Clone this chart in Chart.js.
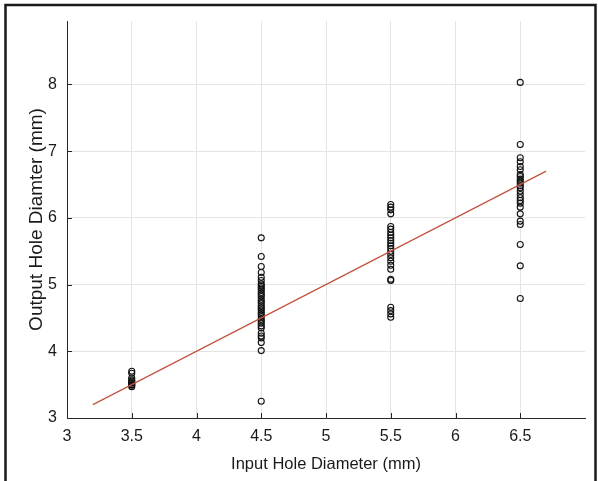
<!DOCTYPE html>
<html>
<head>
<meta charset="utf-8">
<script src="https://cdn.jsdelivr.net/npm/chart.js@4"></script>
<style>
html,body{margin:0;padding:0;background:#fff;}
#wrap{width:598px;height:481px;position:relative;}
</style>
</head>
<body>
<div id="wrap"><canvas id="c" width="598" height="481"></canvas></div>
<script>
// Input diameters (x categories)
const inputDiameters = [3.5, 4.5, 5.5, 6.5];
// Measured output diameters per input diameter
const out35 = [3.70, 3.67, 3.60, 3.57, 3.55, 3.53, 3.52, 3.50, 3.49, 3.47];
const out45 = [5.70, 5.42, 5.27, 5.18, 5.11, 5.06, 5.01, 4.98, 4.95, 4.92, 4.88, 4.85, 4.82, 4.78, 4.75, 4.72, 4.68, 4.65, 4.62, 4.58, 4.55, 4.52, 4.48, 4.45, 4.42, 4.38, 4.35, 4.27, 4.23, 4.20, 4.13, 4.01, 3.25];
const out55 = [6.20, 6.16, 6.12, 6.06, 5.87, 5.83, 5.78, 5.74, 5.70, 5.66, 5.62, 5.58, 5.54, 5.50, 5.45, 5.40, 5.35, 5.29, 5.23, 5.08, 5.06, 4.66, 4.61, 4.56, 4.51];
const out65 = [8.03, 7.10, 6.90, 6.84, 6.77, 6.72, 6.65, 6.62, 6.58, 6.55, 6.52, 6.48, 6.45, 6.40, 6.35, 6.30, 6.26, 6.22, 6.16, 6.06, 5.95, 5.90, 5.60, 5.28, 4.79];
// Reference line y = x
const lineX = [3.2, 6.7];
const lineY = [3.2, 6.7];
// Axis ticks
const xTicks = [3, 3.5, 4, 4.5, 5, 5.5, 6, 6.5];
const yTicks = [3, 4, 5, 6, 7, 8];

const groups = [out35, out45, out55, out65];
const scatterPts = [];
groups.forEach((g, i) => g.forEach(v => scatterPts.push({x: inputDiameters[i], y: v})));
const linePts = lineX.map((x, i) => ({x: x, y: lineY[i]}));

const FONT = "'Liberation Sans', Arial, sans-serif";

const framePlugin = {
  id: 'frame',
  afterDraw(chart) {
    const ctx = chart.ctx;
    const xs = chart.scales.x, ys = chart.scales.y;
    const a = chart.chartArea;
    ctx.save();
    // inner tick marks
    ctx.strokeStyle = '#262626';
    ctx.lineWidth = 1;
    ctx.beginPath();
    xTicks.forEach(t => {
      const px = Math.round(xs.getPixelForValue(t)) + 0.5;
      ctx.moveTo(px, a.bottom); ctx.lineTo(px, a.bottom - 5);
    });
    yTicks.forEach(t => {
      const py = Math.round(ys.getPixelForValue(t)) + 0.5;
      ctx.moveTo(a.left, py); ctx.lineTo(a.left + 5, py);
    });
    ctx.stroke();
    // outer frame
    ctx.strokeStyle = '#1a1a1a';
    ctx.lineWidth = 2.5;
    ctx.beginPath();
    ctx.moveTo(5.5, 481); ctx.lineTo(5.5, 5); ctx.lineTo(595.5, 5); ctx.lineTo(595.5, 481);
    ctx.stroke();
    ctx.restore();
  }
};

new Chart(document.getElementById('c'), {
  type: 'scatter',
  data: {
    datasets: [
      {
        data: scatterPts,
        pointStyle: 'circle',
        pointRadius: 3,
        pointBorderWidth: 1.1,
        pointBorderColor: '#111',
        pointBackgroundColor: 'rgba(0,0,0,0)',
        showLine: false,
        order: 2
      },
      {
        data: linePts,
        showLine: true,
        borderColor: '#c0533d',
        borderWidth: 1.2,
        pointRadius: 0,
        order: 1
      }
    ]
  },
  options: {
    responsive: false,
    animation: false,
    devicePixelRatio: 1,
    layout: {padding: {top: 21, right: 13, left: 0, bottom: 0}},
    plugins: {legend: {display: false}, tooltip: {enabled: false}},
    scales: {
      x: {
        type: 'linear',
        min: 3, max: 7,
        afterBuildTicks(s) { s.ticks = xTicks.map(v => ({value: v})); },
        afterFit(s) { s.height = 63; },
        grid: {color: '#e4e4e4', drawTicks: false, lineWidth: 1},
        border: {color: '#262626', width: 1},
        ticks: {color: '#1a1a1a', font: {family: FONT, size: 16}, padding: 9, maxRotation: 0, autoSkip: false,
                callback: v => String(v)},
        title: {display: true, text: 'Input Hole Diameter (mm)', color: '#1a1a1a',
                font: {family: FONT, size: 16.5}, padding: {top: 0, bottom: 7}}
      },
      y: {
        type: 'linear',
        min: 3, max: 8.95,
        afterBuildTicks(s) { s.ticks = yTicks.map(v => ({value: v})); },
        afterFit(s) { s.width = 67; },
        grid: {color: '#e4e4e4', drawTicks: false, lineWidth: 1},
        border: {color: '#262626', width: 1},
        ticks: {color: '#1a1a1a', font: {family: FONT, size: 16}, padding: 10, autoSkip: false,
                callback: v => String(v)},
        title: {display: true, text: 'Output Hole Diamter (mm)', color: '#1a1a1a',
                font: {family: FONT, size: 19}, padding: {top: 25, bottom: 0}}
      }
    }
  },
  plugins: [framePlugin]
});
</script>
</body>
</html>
